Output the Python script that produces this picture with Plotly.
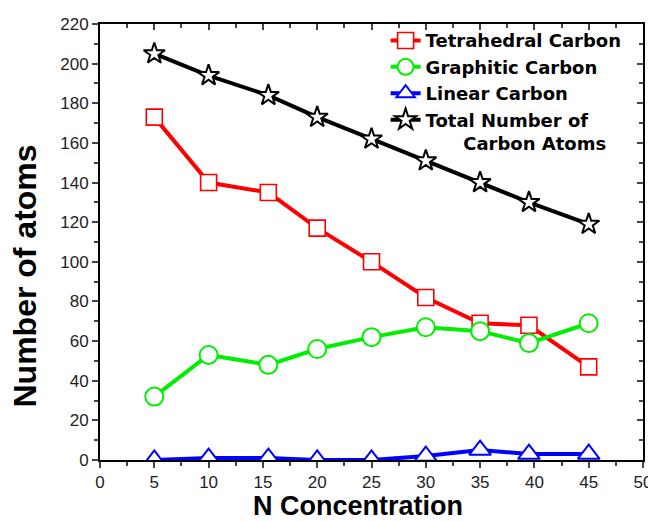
import plotly.graph_objects as go

n_conc = [5, 10, 15.5, 20, 25, 30, 35, 39.5, 45]
tetrahedral = [173, 140, 135, 117, 100, 82, 69, 68, 47]
graphitic = [32, 53, 48, 56, 62, 67, 65, 59, 69]
linear = [0, 1, 1, 0, 0, 2, 5, 3, 3]
total = [205, 194, 184, 173, 162, 151, 140, 130, 119]

NB = "\u00a0"
series = [
    ("<b>Tetrahedral Carbon</b>", tetrahedral, "#ff0000", "square", 16, 1.6),
    ("<b>Graphitic Carbon</b>", graphitic, "#00ee00", "circle", 18, 2),
    ("<b>Linear Carbon</b>", linear, "#0000ff", "triangle-up", 19, 2),
    ("<b>Total Number of<br>" + NB * 6 + "Carbon Atoms</b>", total, "#000000", "star", 16, 2),
]

FONT = "Liberation Sans, Arial, sans-serif"
LFONT = "DejaVu Sans, sans-serif"

fig = go.Figure()
for name, ys, col, sym, sz, lw in series:
    fig.add_trace(go.Scatter(
        x=n_conc, y=ys, name=name, mode="lines+markers",
        line=dict(color=col, width=4),
        marker=dict(symbol=sym, size=sz, color="white",
                    line=dict(color=col, width=lw)),
    ))

# invisible trace for mirrored inside ticks (top/right)
fig.add_trace(go.Scatter(x=[0], y=[0], xaxis="x2", yaxis="y2",
                         showlegend=False, mode="markers",
                         marker=dict(opacity=0), hoverinfo="skip"))

tickfont = dict(family=FONT, size=17, color="#222")
fig.update_layout(
    width=656, height=521,
    margin=dict(l=92, r=21, t=16, b=69),
    plot_bgcolor="white", paper_bgcolor="white",
    xaxis=dict(range=[0, 50], tick0=0, dtick=5, ticks="outside", ticklen=6,
               tickwidth=2, showline=True, linewidth=2, linecolor="black",
               showgrid=False, zeroline=False, tickfont=tickfont, automargin=False,
               minor=dict(dtick=2.5, ticks="outside", ticklen=4, tickwidth=2)),
    yaxis=dict(range=[0, 220], tick0=0, dtick=20, ticks="outside", ticklen=6,
               tickwidth=2, showline=True, linewidth=2, linecolor="black",
               showgrid=False, zeroline=False, tickfont=tickfont, automargin=False,
               minor=dict(dtick=10, ticks="outside", ticklen=4, tickwidth=2)),
    xaxis2=dict(range=[0, 50], overlaying="x", side="top", tick0=0, dtick=5,
                ticks="inside", ticklen=6, tickwidth=2, showline=True, linewidth=2,
                linecolor="black", showticklabels=False, showgrid=False, zeroline=False,
                automargin=False,
                minor=dict(dtick=2.5, ticks="inside", ticklen=4, tickwidth=2)),
    yaxis2=dict(range=[0, 220], overlaying="y", side="right", anchor="x2", tick0=0, dtick=20,
                ticks="inside", ticklen=6, tickwidth=2, showline=True, linewidth=2,
                linecolor="black", showticklabels=False, showgrid=False, zeroline=False,
                automargin=False,
                minor=dict(dtick=10, ticks="inside", ticklen=4, tickwidth=2)),
    legend=dict(x=0.526, y=1.004, xanchor="left", yanchor="top", valign="top",
                bgcolor="rgba(0,0,0,0)", tracegroupgap=0,
                font=dict(family=LFONT, size=18, color="black")),
    showlegend=True,
    annotations=[
        dict(text="<b>Number of atoms</b>", xref="paper", yref="paper",
             x=-0.139, y=0.422, xanchor="center", yanchor="middle", textangle=-90,
             showarrow=False, font=dict(family=FONT, size=32, color="black")),
        dict(text="<b>N Concentration</b>", xref="paper", yref="paper",
             x=0.475, y=-0.106, xanchor="center", yanchor="middle",
             showarrow=False, font=dict(family=FONT, size=27, color="black")),
    ],
)
fig.write_html("out.html")
